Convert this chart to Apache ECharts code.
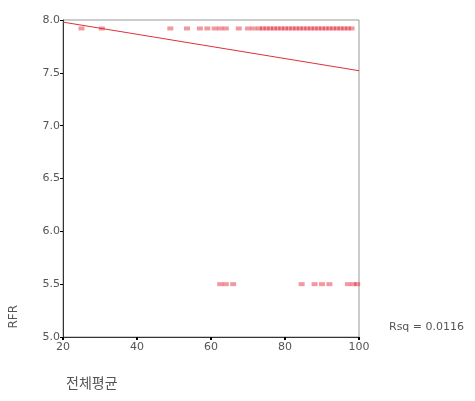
<!DOCTYPE html>
<html>
<head>
<meta charset="utf-8">
<script src="https://cdn.jsdelivr.net/npm/echarts@6/dist/echarts.min.js"></script>
<style>
  html, body { margin: 0; padding: 0; background: #fff; }
  #chart { width: 475px; height: 401px; }
</style>
</head>
<body>
<div id="chart"></div>
<script>
// 전체평균 values of cases sitting on the upper band (RFR ~ 7.92)
let highX = [25, 30.5, 49, 53.5, 57, 59, 61, 62.5, 64, 67.5, 70, 71.5, 73, 74, 75, 76, 77, 78,
  79, 80, 81, 82, 83, 84, 85, 86, 87, 88, 89, 90, 91, 92, 93, 94, 95, 96, 97, 98];
let highY = 7.92;
// cases on the lower band (RFR = 5.5)
let lowX = [62.5, 64, 66, 84.5, 88, 90, 92, 97, 98.5, 99.5];
let lowY = 5.5;
// linear fit
let fitIntercept = 8.095;
let fitSlope = -0.00575;
let xTicks = [20, 40, 60, 80, 100];
let rsqText = 'Rsq = 0.0116';

let points = highX.map(function (x) { return [x, highY]; })
  .concat(lowX.map(function (x) { return [x, lowY]; }));
let fitLine = [xTicks[0], xTicks[xTicks.length - 1]].map(function (x) {
  return [x, fitIntercept + fitSlope * x];
});

let chart = echarts.init(document.getElementById('chart'));
let labelFont = { color: '#555', fontSize: 11, fontFamily: 'DejaVu Sans' };

let option = {
  animation: false,
  backgroundColor: '#fff',
  grid: {
    left: 63, right: 116, top: 20, bottom: 64,
    show: true, borderColor: '#999', borderWidth: 1
  },
  xAxis: {
    type: 'value', min: 20, max: 100, interval: 20,
    axisLine: { lineStyle: { color: '#333', width: 1 } },
    axisTick: { show: true, length: 3, lineStyle: { color: '#000', width: 2 } },
    splitLine: { show: false },
    axisLabel: Object.assign({ margin: 5 }, labelFont)
  },
  yAxis: {
    type: 'value', min: 5, max: 8, interval: 0.5,
    axisLine: { show: true, lineStyle: { color: '#333', width: 1 } },
    axisTick: { show: true, length: 3, lineStyle: { color: '#000', width: 1 } },
    splitLine: { show: false },
    axisLabel: Object.assign({
      margin: 3,
      formatter: function (v) { return v.toFixed(1); }
    }, labelFont)
  },
  series: [
    {
      type: 'scatter',
      data: points,
      symbol: 'rect',
      symbolSize: [6, 4],
      itemStyle: { color: 'rgba(225,20,40,0.55)' }
    },
    {
      type: 'line',
      data: fitLine,
      symbol: 'none',
      lineStyle: { color: '#e0303a', width: 1 }
    }
  ],
  graphic: [
    {
      type: 'text', left: 8, top: 305, rotation: Math.PI / 2,
      style: { text: 'RFR', fill: '#555', fontSize: 12, fontFamily: 'DejaVu Sans' }
    },
    {
      type: 'text', left: 66, top: 376,
      style: { text: '전체평균', fill: '#555', fontSize: 14, fontFamily: 'Noto Sans CJK KR' }
    },
    {
      type: 'text', left: 389, top: 322,
      style: { text: rsqText, fill: '#555', fontSize: 11, fontFamily: 'DejaVu Sans' }
    }
  ]
};
chart.setOption(option);
</script>
</body>
</html>
